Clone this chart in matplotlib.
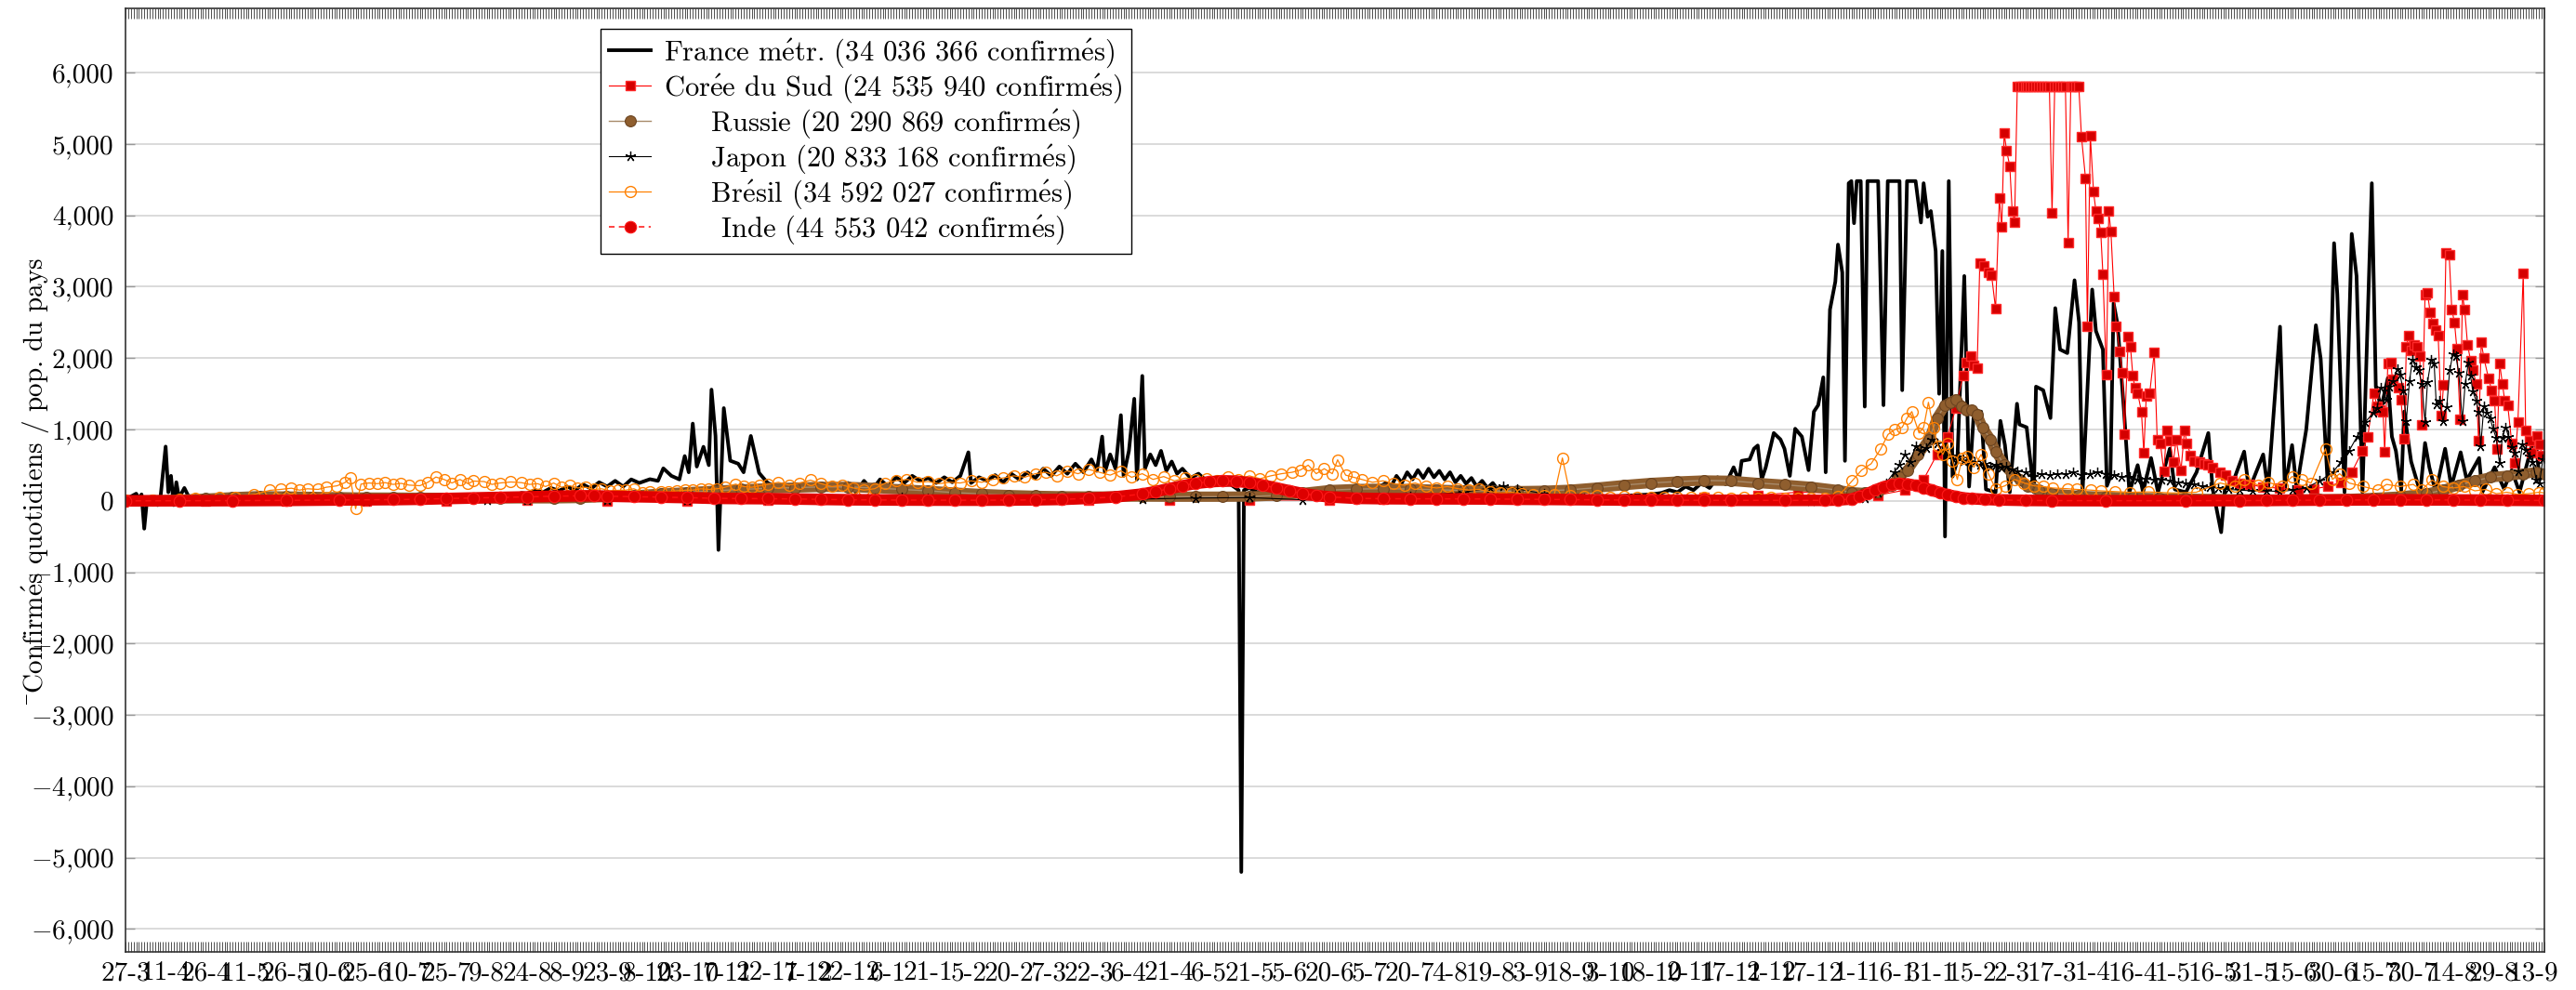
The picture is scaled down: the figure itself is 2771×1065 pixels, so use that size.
import matplotlib
matplotlib.use("Agg")
import matplotlib.pyplot as plt
import pandas as pd
from matplotlib.ticker import FuncFormatter, MultipleLocator, FixedLocator

plt.rcParams["font.family"] = ["cmr10", "DejaVu Serif"]
plt.rcParams["mathtext.fontset"] = "cm"
plt.rcParams["axes.formatter.use_mathtext"] = True

FS = 21
LEG_FS = 22
START = pd.Timestamp("2020-03-27")
E_ACUTE = r"$\mathrm{\acute{e}}$"

# days are counted from 27-3-2020
fr_day = [0, 2, 4, 5, 6, 7, 8, 10, 12, 13, 15, 16, 17, 18, 19, 20, 22, 24, 26, 30, 36, 42, 50, 60, 70, 80, 90, 100,
          110, 120, 128, 135, 140, 145, 148, 150, 153, 156, 159, 162, 165, 168, 171, 174, 177, 180, 183, 186, 189,
          192, 196, 199, 201, 204, 207, 209, 210.5, 212, 213.5, 216, 218, 219, 220.5, 221.6, 223.6, 226, 229, 231,
          233.7, 236.8, 240, 243, 246, 249, 252, 255, 258, 261, 264, 267, 270, 273, 276, 279, 282, 285, 288, 291,
          294, 297, 300, 303, 306, 309, 312, 315, 316, 319, 322, 325, 328, 331, 334, 337, 340, 343, 346, 349, 352,
          355, 358, 361, 363, 365, 366, 368, 370, 372, 373, 375, 377, 378, 380, 381, 383, 385, 387, 389, 391, 393,
          395, 398, 401, 404, 407, 410, 413, 416, 417, 418, 420, 423, 426, 430, 435, 440, 445, 450, 455, 460, 465,
          468, 471, 473, 475, 477, 479, 481, 483, 485, 487, 489, 491, 493, 495, 497, 499, 501, 503, 505, 507, 509,
          511, 513, 515, 518, 521, 524, 527, 530, 534, 538, 542, 546, 550, 555, 560, 565, 570, 574, 577, 580, 583,
          586, 589, 592, 595, 598, 601, 603, 604, 607, 608.6, 610, 611.5, 613, 616, 618.5, 620, 622, 624, 626.5,
          629, 631, 632.6, 634.5, 635.4, 637, 639, 640, 641.6, 642.6, 644, 645, 646, 647, 648.5, 650, 651, 655,
          657, 658.6, 663, 664, 665.8, 669, 671, 672, 673.5, 674.7, 676.5, 677.8, 679, 680, 681.4, 682.8, 684.6,
          687.2, 689, 690.8, 693.5, 695.3, 698.9, 700.7, 702.4, 704.2, 706.9, 707.8, 710.5, 713.2, 714, 716.7,
          719.4, 721.2, 723, 725.7, 728.4, 730.1, 731.4, 735, 736.4, 739, 740.5, 741.8, 743, 744.5, 747, 748.9, 752,
          754, 757, 759.6, 764, 765.9, 770, 774, 778.4, 780, 783.2, 784.6, 788, 791.8, 793.6, 798.9, 800.7, 805.2,
          807, 809.7, 811.4, 815, 818.6, 820.4, 823, 825.4, 826.6, 829.3, 832, 833.8, 836, 839.5, 841, 843, 845.5,
          847, 848.5, 850.5, 851.6, 854.2, 857.6, 859.4, 861, 863.4, 866.9, 869.2, 872.7, 875, 879.6, 880.8, 885.4,
          888.9, 891.8, 894.7, 900.5, 902.2, 904]
fr_val = [0, 60, 100, 30, 90, -390, 0, 40, -60, 20, 760, 120, 350, -60, 260, 40, 180, 30, 70, 40, 50, 30, 20, 15,
          10, 10, 10, 12, 15, 25, 40, 60, 80, 70, 110, 100, 150, 120, 180, 140, 200, 150, 230, 170, 260, 200, 280,
          200, 300, 250, 303, 280, 455, 350, 300, 627, 400, 1082, 480, 757, 500, 1558, 909, -688, 1299, 562, 520,
          400, 909, 390, 250, 200, 230, 150, 200, 180, 240, 160, 220, 170, 250, 120, 280, 150, 300, 200, 330, 250,
          350, 280, 320, 250, 330, 260, 350, 680, 250, 330, 280, 360, 260, 380, 300, 400, 320, 450, 350, 480, 380,
          520, 400, 580, 420, 900, 400, 650, 450, 1200, 350, 700, 1430, 300, 1750, 450, 650, 500, 700, 420, 550,
          380, 450, 320, 380, 280, 300, 220, 230, 150, -5200, 150, 180, 120, 140, 90, 80, 60, 50, 50, 60, 80, 120,
          180, 250, 200, 350, 250, 400, 300, 430, 320, 450, 330, 420, 300, 400, 260, 350, 240, 320, 200, 280, 180,
          250, 150, 200, 120, 170, 100, 130, 80, 110, 70, 90, 60, 70, 60, 70, 80, 90, 110, 150, 120, 200, 150, 250,
          180, 330, 230, 470, 280, 560, 580, 730, 775, 300, 470, 950, 860, 730, 350, 1010, 900, 430, 1250, 1340,
          1730, 400, 2680, 3070, 3590, 3200, 560, 4450, 4480, 3890, 4480, 4480, 1320, 4480, 4480, 1340, 4480, 4480,
          1550, 4480, 4480, 3900, 4450, 3980, 4060, 3500, 1500, 3500, -500, 4480, 340, 560, 3150, 200, 1250, 1250,
          160, 120, 1120, 780, 120, 1360, 1070, 1030, 120, 1600, 1550, 1160, 2700, 2120, 2070, 3090, 2500, 120, 2960,
          2380, 2120, 210, 340, 2770, 2470, 1200, 120, 500, 120, 600, 120, 730, 160, 120, 400, 950, 170, -440, 170,
          300, 690, 150, 650, 150, 2440, 170, 780, 170, 1000, 2460, 1990, 250, 3610, 2900, 120, 3740, 3150, 120,
          4450, 1600, 1300, 1720, 900, 700, 150, 1250, 550, 120, 810, 470, 120, 730, 200, 680, 290, 600, 120, 470,
          170, 430, 120, 940, 300, 380]

kr_cap_days = [707, 708, 709, 710, 711, 712, 713, 714, 715, 716, 717, 718, 719, 720, 721, 722, 723, 724, 725, 726,
               727, 728, 729, 730]
kr_cap_vals = [5800] * 13 + [4030] + [5800] * 5 + [3620] + [5800] * 4
kr_day = ([0, 30, 60, 90, 120, 150, 180, 210, 240, 260, 280, 300, 330, 360, 390, 420, 450, 470, 490, 510, 540, 570,
           590, 610, 625, 640, 655, 665, 672, 677, 681, 684, 686.7, 688, 689.6, 690.8, 692, 693, 694.4, 696.2,
           697.4, 698.9, 700.3, 701.2, 702.1, 703, 704.2, 705.1, 706]
          + kr_cap_days
          + [731, 732.5, 733.2, 734.3, 735.5, 736.4, 737.3, 738.2, 739, 740.3, 741.2, 742, 743.2, 744, 745.3, 746.3,
             747, 748.5, 749.3, 750.2, 751, 752, 753.4, 754.3, 755.2, 756.5, 758.2, 759.3, 760.5, 761.8, 762.8,
             764.1, 765.3, 766.4, 768.2, 769.5, 770.4, 771.8, 773, 775, 777, 778.4, 780, 782.8, 785, 787.3, 790,
             794, 798.9, 805, 812, 818, 823, 828, 832, 836, 838, 840.3, 841.4, 842.6, 843.7, 844.3, 845.5, 846.6,
             847.2, 849.5, 850.4, 851.6, 852.4, 853.2, 854.2, 855.3, 856.5, 857.4, 858.3, 859.4, 860.3, 861.3,
             862.3, 863.4, 864.3, 865.5, 866.3, 867.2, 868.4, 869.4, 870.4, 871.3, 872.5, 873.4, 874.2, 875.3,
             876.4, 877.3, 878.5, 879.4, 880.4, 881.4, 883.1, 884.3, 885.4, 886.3, 887.3, 888.3, 889.2, 890.3,
             891.8, 892.9, 894.1, 896.1, 897, 898.4, 899.3, 901.3, 902.2, 903.1])
kr_val = ([5, 3, 1, 1, 2, 5, 2, 3, 10, 18, 17, 8, 8, 10, 12, 12, 10, 25, 32, 35, 45, 30, 50, 80, 120, 110, 80, 150,
           300, 650, 900, 1300, 1750, 1940, 2030, 1900, 1860, 3330, 3290, 3200, 3160, 2690, 4240, 3840, 5150, 4910,
           4690, 4060, 3910]
          + kr_cap_vals
          + [5100, 4520, 2450, 5120, 4330, 4060, 3960, 3760, 3180, 1770, 4060, 3770, 2860, 2440, 2100, 1790, 930,
             2300, 2160, 1750, 1580, 1510, 1250, 670, 1470, 1510, 2080, 860, 800, 410, 990, 840, 540, 860, 430, 990,
             810, 640, 560, 540, 520, 500, 470, 400, 360, 280, 250, 230, 190, 180, 150, 170, 200, 260, 400, 700,
             900, 1510, 1330, 1270, 1250, 690, 1920, 1940, 1700, 1590, 1420, 870, 2160, 2310, 2110, 2180, 2160, 2030,
             1070, 2890, 2920, 2640, 2480, 2390, 2310, 1200, 1620, 3480, 3450, 2680, 2500, 2130, 1140, 2890, 2680,
             2180, 1970, 1830, 1640, 840, 2220, 2000, 1720, 1550, 1400, 730, 1920, 1640, 1400, 1340, 810, 530, 1100,
             3190, 990, 840, 680, 910, 790, 640])

ru_day = [0, 10, 20, 30, 40, 50, 60, 70, 80, 90, 100, 110, 120, 130, 140, 150, 160, 170, 180, 190, 200, 210, 220,
          230, 240, 250, 260, 270, 280, 290, 300, 310, 320, 330, 340, 350, 360, 370, 380, 390, 400, 410, 420, 430,
          440, 450, 460, 470, 480, 490, 500, 510, 520, 530, 540, 550, 560, 570, 580, 590, 600, 610, 620, 630, 640,
          645, 650, 655, 660, 663, 666, 670, 674, 677, 680, 682, 684, 686, 688, 690, 692, 694, 697, 699, 702, 705,
          708, 711, 715, 720, 730, 740, 750, 760, 770, 780, 790, 800, 810, 820, 830, 840, 850, 860, 866, 872, 878,
          884, 890, 896, 901, 904]
ru_val = [1, 5, 15, 30, 50, 65, 60, 55, 50, 45, 45, 43, 40, 37, 35, 35, 35, 40, 55, 75, 100, 120, 140, 160, 175,
          185, 195, 195, 180, 160, 140, 115, 95, 80, 70, 63, 60, 60, 60, 58, 58, 58, 60, 75, 110, 150, 165, 170,
          165, 155, 145, 140, 135, 140, 155, 185, 220, 250, 270, 285, 280, 250, 225, 195, 150, 120, 110, 130, 220,
          340, 430, 650, 860, 1160, 1340, 1380, 1420, 1330, 1270, 1270, 1210, 1030, 860, 690, 510, 380, 300, 210,
          150, 100, 70, 55, 45, 35, 30, 25, 20, 18, 18, 20, 25, 40, 60, 100, 150, 220, 280, 330, 350, 380, 400, 380]

jp_day = [0, 30, 60, 90, 120, 135, 150, 180, 210, 240, 260, 280, 290, 300, 320, 350, 380, 400, 420, 440, 460, 480,
          500, 510, 515, 520, 530, 545, 560, 600, 630, 645, 650, 655, 658, 661, 663, 665, 667, 669, 671, 673, 675,
          677, 679, 681, 683, 685, 687, 689, 691, 693, 695, 697, 699, 701, 703, 705, 707, 710, 713, 716, 719, 722,
          725, 728, 731, 734, 737, 740, 743, 746, 749, 752, 755, 758, 761, 764, 767, 770, 773, 776, 779, 782, 786,
          790, 795, 800, 805, 810, 815, 820, 825, 828, 831, 834, 837, 840, 841.4, 843, 844.9, 846, 847.4, 849, 850,
          851.3, 852.4, 853.6, 854.7, 855.9, 857, 858.2, 859.4, 860.3, 861.7, 862.8, 863.6, 864.8, 866, 867.5,
          868.6, 869.8, 870.9, 872, 873.3, 874.4, 875.6, 876.4, 877.3, 878.5, 879.4, 880.2, 881.4, 882.5, 883.7,
          884.8, 886, 887.2, 888.3, 889.5, 890.6, 891.8, 892.9, 894.4, 895.8, 897, 898.4, 899.5, 901, 902.2, 903.4]
jp_val = [0, 3, 1, 2, 7, 8, 4, 4, 6, 15, 25, 40, 45, 30, 10, 12, 25, 40, 45, 15, 20, 60, 120, 180, 200, 170, 100,
          40, 10, 1, 2, 10, 40, 120, 250, 400, 500, 650, 550, 770, 700, 740, 860, 800, 700, 650, 580, 620, 560, 600,
          550, 500, 520, 480, 510, 470, 480, 440, 420, 400, 340, 380, 360, 380, 370, 400, 360, 380, 400, 380, 360,
          330, 340, 300, 310, 290, 300, 280, 260, 250, 230, 200, 190, 180, 160, 150, 140, 140, 130, 150, 180, 280,
          400, 550, 700, 900, 1100, 1230, 1300, 1590, 1420, 1600, 1680, 1850, 1770, 1550, 1120, 1680, 1980, 1870,
          1830, 1640, 1100, 1660, 1980, 1920, 1350, 1400, 1120, 1310, 1830, 2050, 2030, 1790, 1120, 1640, 1940,
          1750, 1530, 1400, 1250, 770, 1330, 1230, 1160, 1010, 880, 530, 880, 1030, 900, 750, 680, 420, 790, 710,
          620, 550, 290, 250, 580]

br_day = [0, 10, 20, 26, 35, 41, 48, 54, 58, 62, 65, 68, 72, 75, 79, 82, 84, 86, 88, 91, 94, 97, 100, 103, 106,
          110, 113, 116, 119, 122, 125, 128, 130, 134, 137, 140, 144, 148, 151, 154, 157, 160, 163, 166, 169, 172,
          175, 178, 181, 184, 187, 190, 193, 196, 200, 203, 206, 209, 212, 215, 218, 221, 224, 228, 231, 234, 237,
          240, 244, 248, 252, 256, 260, 264, 268, 272, 276, 280, 284, 288, 292, 296, 300, 304, 308, 312, 316, 320,
          324, 328, 332, 336, 340, 344, 348, 352, 356, 360, 364, 368, 372, 376, 380, 384, 388, 392, 396, 400, 404,
          408, 412, 416, 420, 424, 428, 432, 436, 439, 442, 445, 448, 451, 453, 456, 459, 462, 466, 470, 474, 478,
          482, 486, 490, 494, 498, 502, 506, 510, 514, 518, 522, 526, 530, 534, 537, 540, 545, 550, 555, 560, 565,
          570, 575, 580, 585, 590, 595, 600, 605, 610, 615, 620, 625, 630, 635, 640, 645.3, 648.8, 652.4, 656,
          658.7, 661.3, 664, 665.8, 667.6, 670.3, 672, 673.8, 675.6, 677.4, 679.2, 681, 682.8, 684.6, 686.4, 688.1,
          690.8, 693.5, 696.2, 698.9, 702.4, 706, 709.6, 713.2, 716.7, 720.3, 725.7, 729.2, 734.6, 738.2, 743.5,
          748.9, 756, 765, 773.9, 782.8, 788.2, 791.8, 797, 800.7, 806, 809.7, 813.2, 816.8, 822.2, 824.8, 827.5,
          831, 836.4, 841.7, 845, 850, 855, 858, 862, 866, 870, 874, 878, 882, 886, 890, 894, 898, 902, 904]
br_val = [10, 15, 25, 30, 45, 55, 90, 147, 160, 177, 150, 169, 160, 190, 210, 255, 320, -110, 234, 250, 240, 255,
          230, 245, 220, 212, 260, 333, 300, 250, 299, 240, 277, 270, 230, 250, 264, 255, 230, 240, 200, 250, 190,
          212, 180, 190, 160, 169, 140, 147, 150, 169, 120, 126, 130, 126, 140, 147, 150, 169, 160, 169, 190, 234,
          200, 190, 212, 230, 260, 220, 250, 290, 240, 200, 220, 180, 150, 170, 250, 280, 300, 260, 270, 240, 260,
          250, 280, 260, 300, 320, 350, 330, 380, 400, 350, 420, 380, 440, 400, 360, 420, 330, 380, 300, 340, 280,
          320, 300, 310, 280, 330, 300, 350, 310, 350, 380, 400, 430, 500, 380, 450, 380, 575, 360, 330, 300, 260,
          280, 240, 220, 250, 200, 180, 200, 170, 150, 160, 130, 110, 120, 100, 90, 80, 90, 600, 70, 60, 70, 50, 60,
          55, 50, 45, 50, 45, 55, 45, 40, 45, 40, 45, 35, 40, 30, 35, 60, 280, 430, 520, 730, 930, 1000, 1030, 1160,
          1250, 950, 1030, 1380, 1030, 770, 650, 800, 560, 300, 600, 620, 470, 650, 380, 170, 210, 300, 250, 210,
          200, 180, 170, 160, 150, 140, 130, 120, 125, 110, 120, 250, 200, 300, 220, 260, 200, 340, 300, 250, 730,
          300, 380, 250, 200, 150, 230, 200, 230, 150, 290, 200, 180, 200, 140, 160, 100, 120, 90, 100, 120, 110]

in_day = [0, 20, 40, 60, 80, 100, 110, 120, 130, 140, 150, 160, 170, 175, 180, 190, 200, 210, 220, 230, 240, 250,
          260, 270, 280, 290, 300, 310, 320, 330, 340, 350, 360, 370, 380, 385, 390, 395, 400, 405, 410, 415, 420,
          425, 430, 435, 440, 445, 450, 460, 470, 480, 490, 500, 510, 520, 530, 540, 550, 560, 570, 580, 590, 600,
          620, 635, 640, 645, 648, 651, 654, 657, 660, 663, 666, 669, 672, 675, 678, 681, 684, 687, 690, 695, 700,
          710, 720, 740, 770, 790, 800, 810, 820, 830, 840, 850, 860, 870, 880, 890, 904]
in_val = [0, 1, 3, 6, 12, 17, 22, 32, 40, 48, 55, 65, 70, 70, 65, 58, 52, 45, 35, 32, 30, 26, 20, 15, 13, 11, 10,
          9, 9, 11, 14, 20, 35, 55, 95, 130, 170, 210, 245, 265, 280, 275, 255, 220, 180, 140, 100, 75, 55, 35, 30,
          28, 28, 27, 26, 22, 20, 17, 14, 11, 10, 9, 8, 7, 6, 7, 12, 25, 60, 100, 150, 195, 225, 240, 235, 215, 185,
          150, 115, 85, 60, 40, 30, 20, 13, 6, 3, 2, 2, 3, 5, 8, 10, 12, 13, 14, 13, 12, 10, 8, 5]

labels = [
    f"France m{E_ACUTE}tr. (34 036 366 confirm{E_ACUTE}s)",
    f"Cor{E_ACUTE}e du Sud (24 535 940 confirm{E_ACUTE}s)",
    f"Russie (20 290 869 confirm{E_ACUTE}s)",
    f"Japon (20 833 168 confirm{E_ACUTE}s)",
    f"Br{E_ACUTE}sil (34 592 027 confirm{E_ACUTE}s)",
    f"Inde (44 553 042 confirm{E_ACUTE}s)",
]
ylabel = "\u00b9Confirm" + E_ACUTE + "s quotidiens / pop. du pays"

tick_days = list(range(0, 901, 15))
tick_labels = [f"{(START + pd.Timedelta(days=d)).day}-{(START + pd.Timedelta(days=d)).month}" for d in tick_days]

fig = plt.figure(figsize=(27.71, 10.65), dpi=100)
ax = fig.add_axes([0.04872, 0.0385, 0.93901, 0.95305])

# centre the legend texts like the original (pad with spaces)
renderer = fig.canvas.get_renderer()


def text_width(s):
    t = fig.text(0, 0, s, fontsize=LEG_FS)
    w = t.get_window_extent(renderer).width
    t.remove()
    return w


space_w = text_width("x x") - text_width("xx")
widths = [text_width(l) for l in labels]
max_w = max(widths)
padded = [" " * int(round((max_w - w) / 2 / space_w)) + l for l, w in zip(labels, widths)]

ax.plot(fr_day, fr_val, color="black", lw=2.8, label=padded[0], zorder=2)
ax.plot(kr_day, kr_val, color="#ff0000", lw=0.8, marker="s", ms=7.5, mfc="#d40000", mec="#ff2a2a", mew=1,
        label=padded[1], zorder=2)
ax.plot(ru_day, ru_val, color="#8f5e2e", lw=8, solid_capstyle="round", zorder=2)
ax.plot(ru_day, ru_val, color="#a88a6a", lw=1.0, marker="o", ms=8.5, mfc="#8f5e2e", mec="#6b4420", mew=0.8,
        label=padded[2], zorder=2)
ax.plot(jp_day, jp_val, color="black", lw=0.8, marker=(5, 2, 0), ms=8, mew=0.9, label=padded[3], zorder=2)
ax.plot(br_day, br_val, color="#ff8000", lw=0.9, marker="o", ms=8.5, mfc="none", mec="#ff8000", mew=1,
        label=padded[4], zorder=2)
ax.plot(in_day, in_val, color="#e00000", lw=9, solid_capstyle="round", zorder=2)
ax.plot(in_day, in_val, color="#ff1010", lw=1.1, ls=(0, (4, 3)), marker="o", ms=9, mfc="#dd0000",
        mec="#ff1a1a", mew=0.8, label=padded[5], zorder=2)

ax.set_xlim(0, 904)
ax.set_ylim(-6320, 6900)

ax.xaxis.set_major_locator(FixedLocator(tick_days))
ax.set_xticklabels(tick_labels)
ax.xaxis.set_minor_locator(MultipleLocator(1))
ax.set_yticks(range(-6000, 6001, 1000))


def fmt_thousands(v, pos):
    s = f"{abs(v):,.0f}"
    return "$-$" + s if v < 0 else s


ax.yaxis.set_major_formatter(FuncFormatter(fmt_thousands))

ax.tick_params(axis="x", which="both", direction="in", top=True, bottom=True, length=8, width=0.6,
               color="#333333", labelsize=FS, pad=7)
ax.tick_params(axis="y", which="major", direction="in", left=True, right=True, length=7, width=1,
               color="#999999", labelsize=FS, pad=9)
ax.tick_params(axis="y", which="minor", left=False, right=False)

ax.grid(axis="y", color="#d4d4d4", lw=1.2, zorder=0)
ax.set_axisbelow(True)
for sp in ax.spines.values():
    sp.set_color("#333333")
    sp.set_linewidth(1.2)

fig.text(0.0141, 0.5136, ylabel, rotation=90, ha="center", va="center", fontsize=FS)

leg = ax.legend(loc="upper left", bbox_to_anchor=(0.1964, 0.978), borderaxespad=0, fontsize=LEG_FS,
                labelspacing=0.08, borderpad=0.28, handlelength=1.5, handletextpad=0.45, fancybox=False,
                framealpha=1, edgecolor="black", numpoints=1)
leg.get_frame().set_linewidth(1.0)
leg.set_zorder(5)

fig.savefig("out.png", dpi=100)
